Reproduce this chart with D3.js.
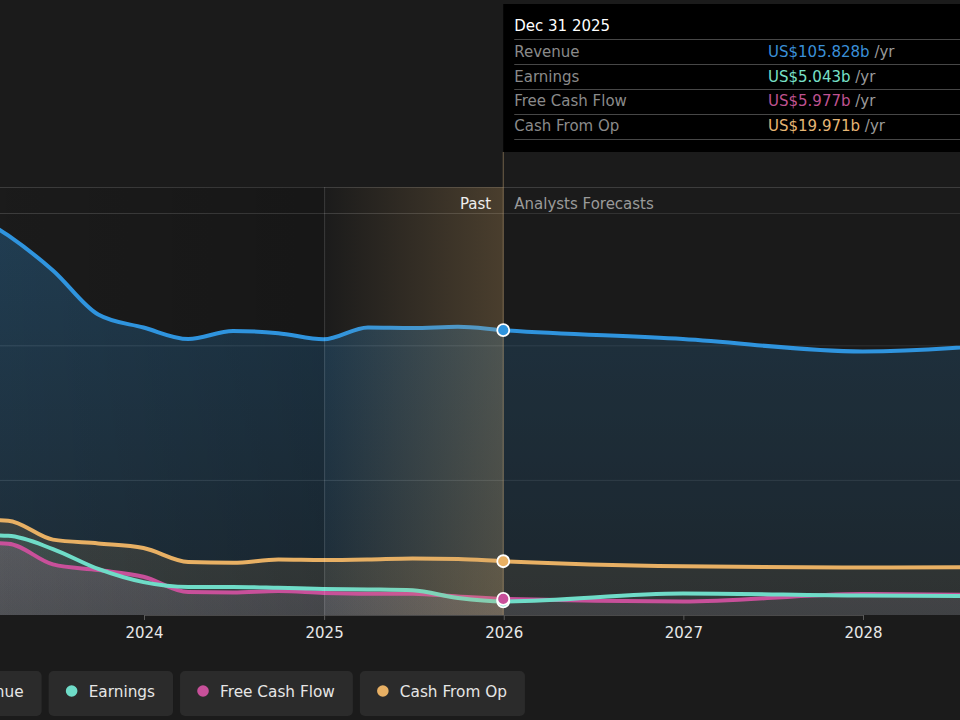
<!DOCTYPE html>
<html>
<head>
<meta charset="utf-8">
<script src="https://cdn.jsdelivr.net/npm/d3@7"></script>
<style>
  html, body { margin: 0; padding: 0; background: #1b1b1b; overflow: hidden; }
  svg { display: block; font-family: "DejaVu Sans", sans-serif; }
</style>
</head>
<body>
<svg id="chart" width="960" height="720"></svg>
<script>
// period ends: quarterly history, then yearly analyst forecasts (US$ b)
const dates = ["2022-12-31", "2023-03-31", "2023-06-30", "2023-09-30", "2023-12-31",
  "2024-03-31", "2024-06-30", "2024-09-30", "2024-12-31", "2025-03-31", "2025-06-30",
  "2025-09-30", "2025-12-31", "2026-12-31", "2027-12-31", "2028-12-31"];
const revenue = [151, 141, 128, 111.6, 106.8, 102.5, 105.5, 104.7, 102.4, 106.8, 106.6, 107.1, 105.828, 102.5, 97.9, 102];
const earnings = [29.8, 29.4, 24.5, 17.1, 12.2, 10.4, 10.4, 10.1, 9.7, 9.5, 9.2, 6.3, 5.043, 8.0, 7.2, 7.0];
const freeCashFlow = [27, 26.5, 18.8, 16.7, 14.2, 8.5, 8.4, 8.9, 8.2, 7.9, 7.9, 6.9, 5.977, 5.0, 7.8, 7.2];
const cashFromOp = [35.5, 35, 28, 26.6, 24.9, 19.7, 19.4, 20.6, 20.4, 20.6, 21, 20.8, 19.971, 18.1, 17.6, 17.9];

const seriesNames = ["Revenue", "Earnings", "Free Cash Flow", "Cash From Op"];
const seriesColors = ["#2f94de", "#6fdcc8", "#c8509a", "#e8b064"];
const tooltipColors = ["#3a8fd8", "#78e0c8", "#bf5290", "#e6b574"];
const tooltipDate = "Dec 31 2025";
const tooltipValues = ["US$105.828b", "US$5.043b", "US$5.977b", "US$19.971b"];
const tickYears = [2024, 2025, 2026, 2027, 2028];
const gridValues = [50, 100];
const pastLabel = "Past";
const forecastLabel = "Analysts Forecasts";
const bandStart = "2025-01-01";
const nowDate = "2025-12-31";

const parseTime = d3.timeParse("%Y-%m-%d");

var top0 = 187, header = 26, bottom0 = 615;

var svg = d3.select("#chart");
var defs = svg.append("defs");

// scales
var x = d3.scaleTime()
  .domain([new Date(2024, 0, 1), new Date(2028, 0, 1)])
  .range([144, 863]);

var y = d3.scaleLinear()
  .domain([0, 159])
  .range([bottom0, top0]);

var xLeft = x(parseTime(dates[0]));
var xNow = x(parseTime(nowDate)), xBand = x(parseTime(bandStart));

const series = [
  { name: "Revenue", values: revenue, color: seriesColors[0], op: [0.30, 0.14] },
  { name: "Cash From Op", values: cashFromOp, color: seriesColors[3], op: [0.22, 0.12] },
  { name: "Earnings", values: earnings, color: seriesColors[1], op: [0.16, 0.08] },
  { name: "Free Cash Flow", values: freeCashFlow, color: "#d890b8", op: [0.30, 0.14] }
];

// vertical fill gradients
series.forEach((s, i) => {
  var g = defs.append("linearGradient")
    .attr("id", "fill" + i)
    .attr("gradientUnits", "userSpaceOnUse")
    .attr("x1", 0).attr("x2", 0)
    .attr("y1", top0).attr("y2", bottom0);
  g.append("stop").attr("offset", 0).attr("stop-color", s.color).attr("stop-opacity", s.op[0]);
  g.append("stop").attr("offset", 1).attr("stop-color", s.color).attr("stop-opacity", s.op[1]);
});

var band = defs.append("linearGradient").attr("id", "band");
band.append("stop").attr("offset", 0).attr("stop-color", "#cfa262").attr("stop-opacity", 0);
band.append("stop").attr("offset", 1).attr("stop-color", "#cfa262").attr("stop-opacity", 0.26);

var shade = defs.append("linearGradient").attr("id", "shade");
shade.append("stop").attr("offset", 0).attr("stop-color", "#000").attr("stop-opacity", 0);
shade.append("stop").attr("offset", 1).attr("stop-color", "#000").attr("stop-opacity", 0.16);

// grid + frame
svg.selectAll(".grid")
  .data(gridValues)
  .enter().append("line")
  .attr("x1", -50).attr("x2", 1000)
  .attr("y1", d => y(d)).attr("y2", d => y(d))
  .attr("stroke", "#3a3a3a").attr("stroke-width", 1);

[top0, top0 + header].forEach(v => {
  svg.append("line")
    .attr("x1", -50).attr("x2", 1000)
    .attr("y1", v + 0.5).attr("y2", v + 0.5)
    .attr("stroke", "#3d3d3d");
});

// areas
var area = d3.area()
  .x((d, i) => x(parseTime(dates[i])))
  .y0(bottom0)
  .y1(d => y(d))
  .curve(d3.curveMonotoneX);

var line = d3.line()
  .x((d, i) => x(parseTime(dates[i])))
  .y(d => y(d))
  .curve(d3.curveMonotoneX);

series.forEach((s, i) => {
  svg.append("path")
    .attr("d", area(s.values))
    .attr("fill", "url(#fill" + i + ")");
});

// darken history toward the band, dim forecasts
svg.append("rect")
  .attr("x", xLeft).attr("y", top0)
  .attr("width", xBand - xLeft).attr("height", bottom0 - top0)
  .attr("fill", "url(#shade)");

svg.append("rect")
  .attr("x", xNow).attr("y", top0 + header)
  .attr("width", 1100 - xNow).attr("height", bottom0 - top0 - header)
  .attr("fill", "#1b1b1b").attr("opacity", 0.3);

// lines: draw bottom series first so revenue stays on top
[series[3], series[2], series[1], series[0]].forEach(s => {
  svg.append("path")
    .attr("d", line(s.values))
    .attr("fill", "none")
    .attr("stroke", s.name == "Free Cash Flow" ? seriesColors[2] : s.color)
    .attr("stroke-width", 4)
    .attr("stroke-linecap", "round");
});

// past band over the last year
svg.append("rect")
  .attr("x", xBand).attr("y", top0)
  .attr("width", xNow - xBand).attr("height", bottom0 - top0)
  .attr("fill", "url(#band)");

svg.append("line")
  .attr("x1", xBand + 0.5).attr("x2", xBand + 0.5)
  .attr("y1", top0).attr("y2", bottom0)
  .attr("stroke", "#ffffff").attr("stroke-opacity", 0.14);

svg.append("line")
  .attr("x1", xNow).attr("x2", xNow)
  .attr("y1", 152).attr("y2", bottom0)
  .attr("stroke", "#c8a878").attr("stroke-opacity", 0.5);

svg.append("text")
  .attr("x", xNow - 12).attr("y", 209)
  .attr("text-anchor", "end")
  .attr("font-size", "15px")
  .attr("fill", "#eeeeee")
  .text(pastLabel);

svg.append("text")
  .attr("x", xNow + 11).attr("y", 209)
  .attr("font-size", "15px")
  .attr("fill", "#9a9a9a")
  .text(forecastLabel);

// x axis
var xAxis = d3.axisBottom(x)
  .tickValues(tickYears.map(v => new Date(v, 0, 1)))
  .tickFormat(d3.timeFormat("%Y"))
  .tickSize(5)
  .tickPadding(7);

var xAxisGroup = svg.append("g")
  .attr("transform", "translate(0," + bottom0 + ")")
  .call(xAxis);

xAxisGroup.select(".domain").attr("stroke", "#4a4a4a");
xAxisGroup.selectAll(".tick line").attr("stroke", "#5a5a5a");
xAxisGroup.selectAll(".tick text")
  .attr("fill", "#e8e8e8")
  .attr("font-size", "15px")
  .attr("font-family", "DejaVu Sans, sans-serif");

// hover dots at Dec 31 2025
var iNow = dates.indexOf(nowDate);
[[earnings, 1], [freeCashFlow, 2], [cashFromOp, 3], [revenue, 0]].forEach(p => {
  svg.append("circle")
    .attr("cx", xNow)
    .attr("cy", y(p[0][iNow]))
    .attr("r", 6)
    .attr("fill", seriesColors[p[1]])
    .attr("stroke", "#ffffff")
    .attr("stroke-width", 1.8);
});

// tooltip
var tip = svg.append("g");
tip.append("rect")
  .attr("x", xNow).attr("y", 4)
  .attr("width", 520).attr("height", 148)
  .attr("fill", "#000");

tip.append("text")
  .attr("x", xNow + 11).attr("y", 31)
  .attr("font-size", "15px")
  .attr("fill", "#ffffff")
  .text(tooltipDate);

[39.5, 64.5, 89.5, 114.5, 139.5].forEach(v => {
  tip.append("line")
    .attr("x1", xNow + 11).attr("x2", 1000)
    .attr("y1", v).attr("y2", v)
    .attr("stroke", "#474747");
});

seriesNames.forEach((n, i) => {
  var yy = 57 + i * 24.7;
  tip.append("text")
    .attr("x", xNow + 11).attr("y", yy)
    .attr("font-size", "15px")
    .attr("fill", "#8a8a8a")
    .text(n);
  var t = tip.append("text")
    .attr("x", 768).attr("y", yy)
    .attr("font-size", "15px");
  t.append("tspan").attr("fill", tooltipColors[i]).text(tooltipValues[i]);
  t.append("tspan").attr("fill", "#9a9a9a").text(" /yr");
});

// legend buttons (first one runs off the left edge, as in the source)
var lx = -83;
seriesNames.forEach((n, i) => {
  var g = svg.append("g").attr("transform", "translate(" + lx + ",671)");
  var r = g.append("rect")
    .attr("height", 45).attr("rx", 5)
    .attr("fill", "#2b2b2b");
  g.append("circle")
    .attr("cx", 23).attr("cy", 20)
    .attr("r", 5.8)
    .attr("fill", seriesColors[i]);
  var t = g.append("text")
    .attr("x", 40).attr("y", 26)
    .attr("font-size", "15.3px")
    .attr("fill", "#e6e6e6")
    .text(n);
  var w = 40 + t.node().getComputedTextLength() + 18;
  r.attr("width", w);
  lx += w + 7;
});
</script>
</body>
</html>
